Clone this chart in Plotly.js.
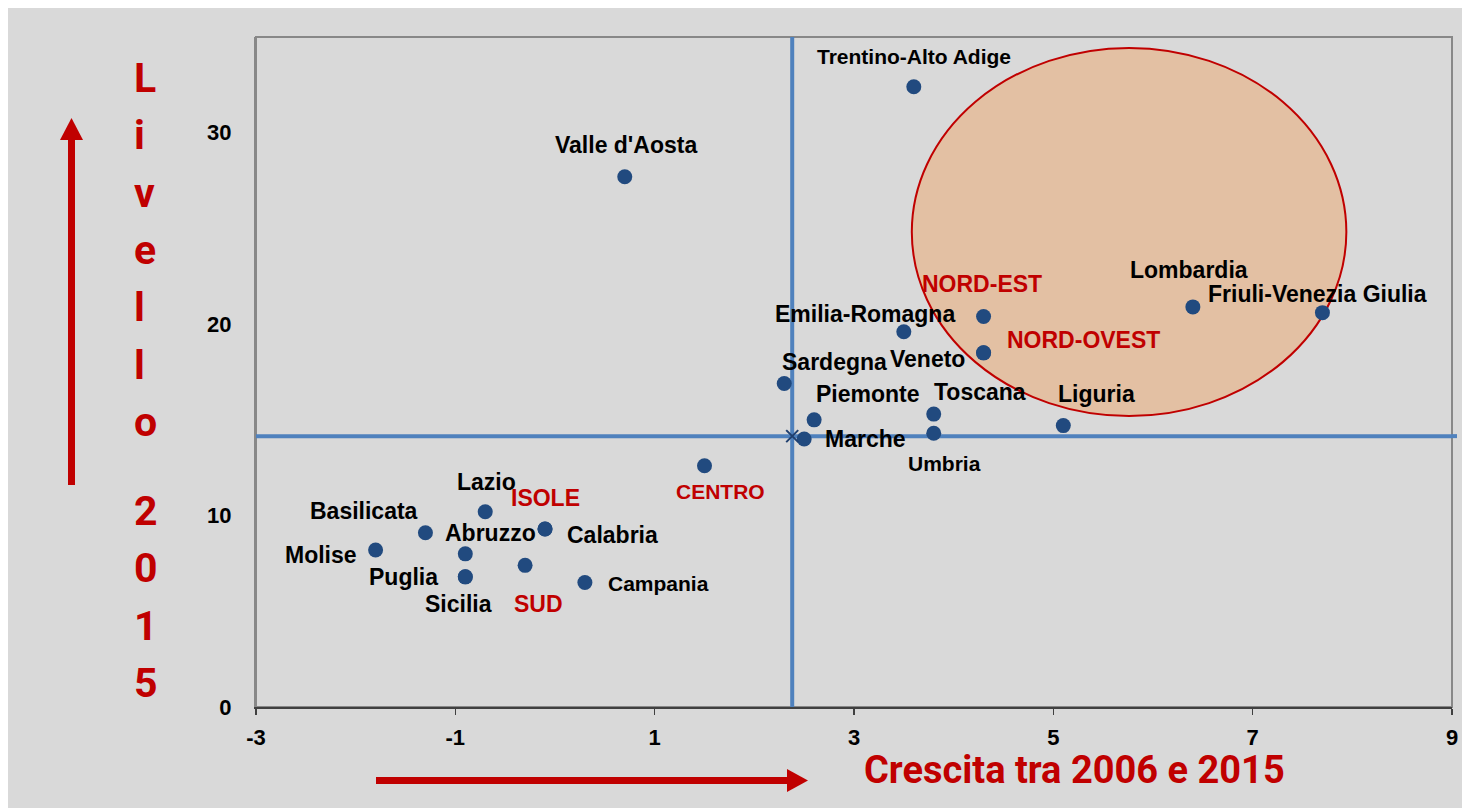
<!DOCTYPE html>
<html><head><meta charset="utf-8">
<script src="https://cdn.plot.ly/plotly-3.0.1.min.js"></script>
<style>html,body{margin:0;padding:0;background:#fff;width:1470px;height:808px;overflow:hidden}
#chart{position:absolute;left:8px;top:8px;width:1454px;height:800px}</style></head>
<body><div id="chart"></div>
<script>
// ---- data ----
const regioni = ["Trentino-Alto Adige","Valle d'Aosta","Lombardia","Friuli-Venezia Giulia","Emilia-Romagna","Veneto","Sardegna","Piemonte","Toscana","Umbria","Marche","Liguria","Lazio","Basilicata","Abruzzo","Calabria","Molise","Puglia","Sicilia","Campania"];
const crescitaRegioni = [3.6, 0.7, 6.4, 7.7, 3.5, 4.3, 2.3, 2.6, 3.8, 3.8, 2.5, 5.1, -0.7, -1.3, -0.9, -0.1, -1.8, -0.9, -0.9, 0.3];
const livelloRegioni  = [32.4, 27.7, 20.9, 20.6, 19.6, 18.5, 16.9, 15.0, 15.3, 14.3, 14.0, 14.7, 10.2, 9.1, 8.0, 9.3, 8.2, 6.8, 6.8, 6.5];
const ripartizioni = ["NORD-OVEST","NORD-EST","CENTRO","SUD","ISOLE"];
const crescitaRip = [4.3, 4.3, 1.5, -0.3, -0.1];
const livelloRip  = [18.5, 20.4, 12.6, 7.4, 9.3];
const italiaCrescita = 2.38;
const italiaLivello = 14.15;
const xTicks = [-3, -1, 1, 3, 5, 7, 9];
const yTicks = [0, 10, 20, 30];
const titoloY = "Livello 2015";
const titoloX = "Crescita tra 2006 e 2015";
// highlighted area (ellipse) bounds in axis units
const areaX = [3.58, 7.94];
const areaY = [15.2, 34.43];

// ---- label placement (pixel offsets from point, font size) ----
const labelPos = {
  "Trentino-Alto Adige":[0,-30,21], "Valle d'Aosta":[1,-32,23], "Lombardia":[-4,-37,23],
  "Friuli-Venezia Giulia":[-5,-19,23], "Emilia-Romagna":[-39,-18,23], "Veneto":[-56,6,23],
  "Sardegna":[50,-21,23], "Piemonte":[54,-26,23], "Toscana":[46,-22,23], "Umbria":[11,30,21],
  "Marche":[61,0,23], "Liguria":[33,-32,23], "Lazio":[1,-30,23], "Basilicata":[-61,-22,23],
  "Abruzzo":[25,-21,23], "Calabria":[67,6,23], "Molise":[-55,5,23], "Puglia":[-62,0,23],
  "Sicilia":[-7,27,23], "Campania":[74,1,21],
  "NORD-OVEST":[100,-13,23], "NORD-EST":[-2,-32,23], "CENTRO":[16,26,21], "SUD":[13,39,23], "ISOLE":[0,-31,23]
};

const RED = '#c00000';
const LBL = 'Liberation Sans, Arial, sans-serif';
const TITLEF = 'Roboto, Liberation Sans, sans-serif';

// pixel (page) -> paper helpers
const PL = 256, PR = 1452, PT = 37, PB = 707;
const pxX = p => (p - PL) / (PR - PL);
const pxY = p => (PB - p) / (PB - PT);

const traces = [
  {x: [xTicks[0], xTicks[xTicks.length-1]], y: [italiaLivello, italiaLivello], mode: 'lines',
   line: {color: '#4f81bd', width: 4}, hoverinfo: 'skip', showlegend: false},
  {x: [italiaCrescita, italiaCrescita], y: [-0.1, 35], mode: 'lines',
   line: {color: '#4f81bd', width: 4}, hoverinfo: 'skip', showlegend: false, cliponaxis: false},
  {x: crescitaRegioni.concat(crescitaRip), y: livelloRegioni.concat(livelloRip),
   text: regioni.concat(ripartizioni), mode: 'markers',
   marker: {color: '#214a7f', size: 15}, showlegend: false},
  {x: [italiaCrescita], y: [italiaLivello], mode: 'markers',
   marker: {symbol: 'x-thin', size: 12, line: {color: '#1f3f6f', width: 2}}, showlegend: false}
];

const annotations = [];
regioni.forEach((r, i) => {
  const p = labelPos[r];
  annotations.push({x: crescitaRegioni[i], y: livelloRegioni[i], text: r, showarrow: false,
    xshift: p[0], yshift: -p[1], xanchor: 'center', yanchor: 'middle',
    font: {family: LBL, size: p[2], color: '#000', weight: 'bold'}});
});
ripartizioni.forEach((r, i) => {
  const p = labelPos[r];
  annotations.push({x: crescitaRip[i], y: livelloRip[i], text: r, showarrow: false,
    xshift: p[0], yshift: -p[1], xanchor: 'center', yanchor: 'middle',
    font: {family: LBL, size: p[2], color: RED, weight: 'bold'}});
});
// vertical title letters (stacked)
let baseline = 93;
titoloY.split('').forEach(ch => {
  if (ch === ' ') { baseline += 32; return; }
  annotations.push({xref: 'paper', yref: 'paper', x: pxX(132), y: pxY(baseline - 15), text: ch,
    showarrow: false, xanchor: 'left', yanchor: 'middle',
    font: {family: TITLEF, size: 41, color: RED, weight: 'bold'}});
  baseline += 57.3;
});
annotations.push({xref: 'paper', yref: 'paper', x: pxX(862), y: pxY(770), text: titoloX,
  showarrow: false, xanchor: 'left', yanchor: 'middle',
  font: {family: TITLEF, size: 38, color: RED, weight: 'bold'}});

const shapes = [
  {type: 'rect', xref: 'paper', yref: 'paper', x0: 0, x1: 1, y0: 0, y1: 1,
   line: {color: '#888888', width: 2}, layer: 'below'},
  {type: 'circle', xref: 'x', yref: 'y', x0: areaX[0], x1: areaX[1], y0: areaY[0], y1: areaY[1],
   fillcolor: '#e3c0a3', line: {color: RED, width: 2}, layer: 'below'},
  // up arrow
  {type: 'line', xref: 'paper', yref: 'paper', x0: pxX(71.5), x1: pxX(71.5), y0: pxY(485), y1: pxY(138),
   line: {color: RED, width: 7}},
  {type: 'path', xref: 'paper', yref: 'paper', fillcolor: RED, line: {width: 0},
   path: `M ${pxX(60)} ${pxY(140)} L ${pxX(83)} ${pxY(140)} L ${pxX(71.5)} ${pxY(118)} Z`},
  // right arrow
  {type: 'line', xref: 'paper', yref: 'paper', x0: pxX(376), x1: pxX(790), y0: pxY(780.5), y1: pxY(780.5),
   line: {color: RED, width: 7}},
  {type: 'path', xref: 'paper', yref: 'paper', fillcolor: RED, line: {width: 0},
   path: `M ${pxX(787)} ${pxY(769)} L ${pxX(787)} ${pxY(792)} L ${pxX(808)} ${pxY(780.5)} Z`},
  // horizontal average line overshoot beyond right frame
  {type: 'line', xref: 'paper', yref: 'y', x0: 1, x1: pxX(1457), y0: italiaLivello, y1: italiaLivello,
   line: {color: '#4f81bd', width: 4}}
];

const tickFont = {family: LBL, size: 22, color: '#000', weight: 'bold'};
const layout = {
  width: 1454, height: 800,
  margin: {l: 248, r: 10, t: 29, b: 101},
  paper_bgcolor: '#d9d9d9', plot_bgcolor: '#d9d9d9',
  showlegend: false,
  xaxis: {range: [-3, 9], tickvals: xTicks, ticktext: xTicks.map(String), showgrid: false, zeroline: false,
    showline: true, linecolor: '#404040', linewidth: 2, ticks: 'outside', ticklen: 6,
    tickcolor: '#404040', tickwidth: 1.5, tickfont: tickFont, ticklabelstandoff: 4},
  yaxis: {range: [0, 35], tickvals: yTicks, showgrid: false, zeroline: false,
    showline: true, linecolor: '#888888', linewidth: 2, ticks: '',
    tickfont: tickFont, ticklabelstandoff: 18},
  annotations: annotations,
  shapes: shapes
};
Plotly.newPlot('chart', traces, layout, {displayModeBar: false, staticPlot: true});
</script></body></html>
